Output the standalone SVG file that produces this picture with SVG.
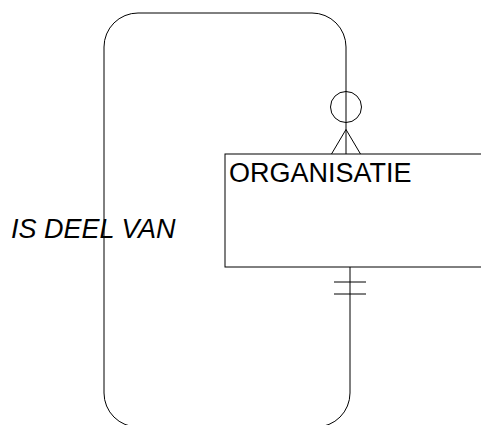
<svg xmlns="http://www.w3.org/2000/svg" width="481" height="425" viewBox="0 0 481 425">
  <style>
    .line { fill: none; stroke: #000; stroke-width: 1; }
    .entity { fill: #fff; stroke: #000; stroke-width: 1; }
    .label { font-family: "Liberation Sans", Arial, sans-serif; font-size: 27px; fill: #000; }
  </style>
  <rect width="481" height="425" fill="#fff"/>

  <!-- relationship: ORGANISATIE is part of ORGANISATIE -->
  <g id="connectors">
    <path class="line" d="M350,267 V393 A34,34 0 0 1 316,427 H138 A34,34 0 0 1 104,393 V47 A34,34 0 0 1 138,13 H312 A34,34 0 0 1 346,47 V154"/>
    <!-- optional (circle) + many (crow's foot) at the top end -->
    <circle class="line" cx="346" cy="107" r="15.5"/>
    <path class="line" d="M331.5,154 L346,129.5 L360.5,154"/>
    <!-- exactly one (double bar) at the bottom end -->
    <path class="line" d="M334,282 H366 M334,294 H366"/>
  </g>

  <g id="rel-label">
    <text class="label" x="11" y="238" font-size="26.5" font-style="italic">IS DEEL VAN</text>
  </g>

  <g id="organisatie">
    <rect class="entity" x="225" y="154" width="270" height="113"/>
    <text class="label" x="229" y="182">ORGANISATIE</text>
  </g>
</svg>
